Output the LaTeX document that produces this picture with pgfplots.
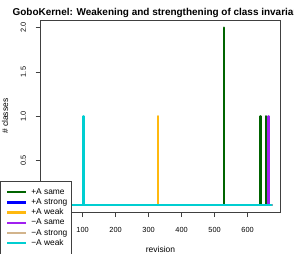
\documentclass[border=0pt]{standalone}
\usepackage{pgfplots}
\pgfplotsset{compat=1.18}
\usepackage{fontspec}
\setmainfont{Liberation Sans}
\definecolor{cSame}{RGB}{0,100,0}
\definecolor{cStrong}{RGB}{0,0,255}
\definecolor{cWeak}{RGB}{255,185,15}
\definecolor{mSame}{RGB}{160,32,240}
\definecolor{mStrong}{RGB}{210,180,140}
\definecolor{mWeak}{RGB}{0,206,209}
\begin{document}
\begin{tikzpicture}[x=1bp,y=1bp]
\useasboundingbox (0,0) rectangle (294,254);
\begin{axis}[
  at={(40.7bp,42bp)}, anchor=south west,
  scale only axis, width=239.6bp, height=191.4bp,
  xmin=-27, xmax=699, ymin=-0.08, ymax=2.08,
  axis line style={black!75, line width=0.9bp},
  tick align=outside, tick pos=left,
  major tick length=5bp,
  tick style={black!75, line width=0.7bp},
  xtick={100,200,300,400,500,600},
  ytick={0.5,1,1.5,2},
  yticklabel style={/pgf/number format/fixed, /pgf/number format/fixed zerofill, /pgf/number format/precision=1, xshift=-9.5bp, rotate=90, anchor=south, inner sep=0pt},
  xticklabel style={anchor=north, inner sep=0pt, yshift=-10.5bp},
  every tick label/.append style={font=\fontsize{7.4}{9}\selectfont},
  /pgf/number format/assume math mode=true,
  scaled ticks=false,
  xlabel={revision}, ylabel={\# classes},
  every axis x label/.style={at={(axis description cs:0.5,-0.1933)}, anchor=center, font=\fontsize{8.5}{10}\selectfont},
  every axis y label/.style={at={(axis description cs:-0.149,0.5)}, anchor=center, rotate=90, font=\fontsize{8.5}{10}\selectfont},
  title={GoboKernel: Weakening and strengthening of class invariants},
  title style={at={(axis description cs:0.5,1)}, anchor=center, yshift=1.6bp, font=\bfseries\fontsize{10}{12}\selectfont},
  legend style={at={(-0.1678,0.1635)}, anchor=north west, draw=black!75, line width=0.8bp, fill=white,
    font=\fontsize{8.4}{10}\selectfont, row sep=0pt, column sep=2.4bp, inner xsep=2.1bp, inner ysep=6bp,
    nodes={inner sep=1.6bp, text height=5.5bp, text depth=1.5bp}},
  legend cell align=left,
  legend image code/.code={\path (0bp,0bp); \draw[#1, line width=2.5bp, line cap=butt] (3.1bp,0bp) -- (21.8bp,0bp);},
  every axis plot/.append style={line width=2.5bp, line cap=round, line join=round},
]
\addplot[cSame] coordinates {(0,0) (529,0) (529,2) (529,0) (639,0) (639,1) (639,0) (656,0) (656,1) (656,0) (672,0)};
\addlegendentry{+A same}
\addplot[cStrong] coordinates {(0,0) (672,0)};
\addlegendentry{+A strong}
\addplot[cWeak] coordinates {(0,0) (328,0) (328,1) (328,0) (672,0)};
\addlegendentry{+A weak}
\addplot[mSame] coordinates {(0,0) (663,0) (663,1) (663,0) (672,0)};
\addlegendentry{−A same}
\addplot[mStrong] coordinates {(0,0) (672,0)};
\addlegendentry{−A strong}
\addplot[mWeak] coordinates {(0,0) (102,0) (102,1) (102,0) (672,0)};
\addlegendentry{−A weak}
\addlegendimage{empty legend}
\addlegendentry{}
\end{axis}
\end{tikzpicture}
\end{document}
